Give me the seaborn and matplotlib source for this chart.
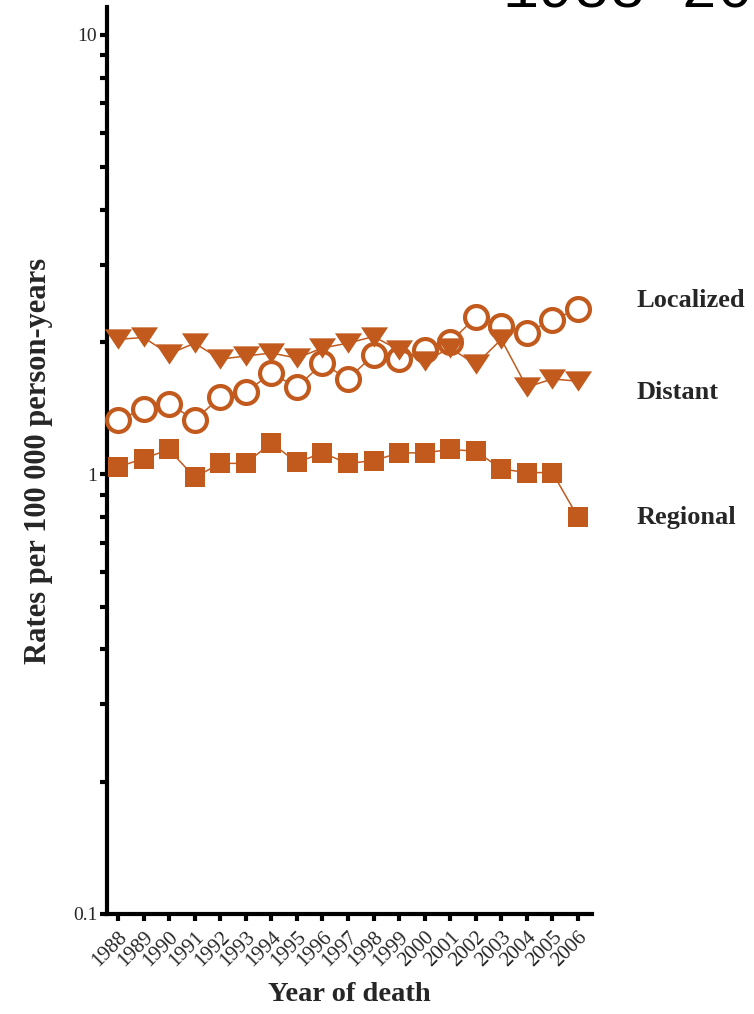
import matplotlib
matplotlib.use("Agg")
import matplotlib.pyplot as plt
import matplotlib.transforms as mtransforms
from matplotlib.ticker import LogLocator, NullFormatter, FixedLocator, FixedFormatter
import seaborn as sns
import pandas as pd

# ---- data ----
years = list(range(1988, 2007))
year_labels = [str(y) for y in years]
localized = [1.33, 1.41, 1.45, 1.33, 1.50, 1.54, 1.70, 1.58, 1.79, 1.65,
             1.87, 1.83, 1.92, 2.00, 2.28, 2.18, 2.10, 2.25, 2.38]
distant = [2.03, 2.05, 1.88, 1.99, 1.83, 1.86, 1.89, 1.84, 1.94, 1.99,
           2.06, 1.92, 1.81, 1.94, 1.78, 2.03, 1.58, 1.65, 1.63]
regional = [1.04, 1.087, 1.14, 0.985, 1.06, 1.06, 1.18, 1.065, 1.12, 1.06,
            1.075, 1.12, 1.12, 1.14, 1.13, 1.03, 1.01, 1.01, 0.80]
series_names = ["Localized", "Distant", "Regional"]
label_y = [2.49, 1.54, 0.80]
y_ticks = [0.1, 1, 10]
y_tick_labels = ["0.1", "1", "10"]

COLOR = "#C25A1E"

sns.set_theme(style="white")
plt.rcParams["font.family"] = ["Liberation Serif", "DejaVu Serif"]

W, H = 754, 1014
fig = plt.figure(figsize=(W / 100, H / 100), dpi=100)
ax = fig.add_axes([107 / W, (H - 914) / H, (592 - 107) / W, (914 - 7) / H])

df = pd.DataFrame({"year": years, "Localized": localized,
                   "Distant": distant, "Regional": regional})

tri = [(-1, 0.75), (1, 0.75), (0, -0.75)]
styles = {
    "Localized": dict(marker="o", markersize=16.5, markerfacecolor="white",
                      markeredgecolor=COLOR, markeredgewidth=3),
    "Distant": dict(marker=tri, markersize=19.5, markerfacecolor=COLOR,
                    markeredgecolor=COLOR, markeredgewidth=0),
    "Regional": dict(marker="s", markersize=15, markerfacecolor=COLOR,
                     markeredgecolor=COLOR, markeredgewidth=0),
}
zorders = {"Regional": 3, "Localized": 4, "Distant": 5}
for name in series_names:
    sns.lineplot(data=df, x="year", y=name, ax=ax, color=COLOR, linewidth=1.1,
                 legend=False, zorder=zorders[name], clip_on=False, **styles[name])

ax.set_yscale("log")
ax.set_ylim(0.1, 11.58)
ax.set_xlim(1987.57, 2006.55)

# spines
for s in ["top", "right"]:
    ax.spines[s].set_visible(False)
for s in ["left", "bottom"]:
    ax.spines[s].set_linewidth(3)
    ax.spines[s].set_color("black")

ax.yaxis.set_major_locator(FixedLocator(y_ticks))
ax.yaxis.set_major_formatter(FixedFormatter(y_tick_labels))
ax.yaxis.set_minor_locator(LogLocator(base=10, subs=range(2, 10)))
ax.yaxis.set_minor_formatter(NullFormatter())
ax.tick_params(axis="y", which="both", direction="out", length=5, width=3,
               color="black", left=True, labelsize=14, pad=2)
ax.set_xticks(years)
ax.set_xticklabels(year_labels, rotation=45, ha="right", rotation_mode="anchor")
ax.tick_params(axis="x", which="major", direction="out", length=5, width=3,
               color="black", bottom=True, labelsize=15, pad=5)
ax.tick_params(axis="x", which="minor", bottom=False)

ax.set_ylabel("Rates per 100 000 person-years", fontsize=22, fontweight="bold",
              labelpad=14)
ax.set_xlabel("Year of death", fontsize=20.5, fontweight="bold", labelpad=8)
ax.grid(False)

trans = mtransforms.blended_transform_factory(ax.transAxes, ax.transData)
for name, yv in zip(series_names, label_y):
    ax.text(1.091, yv, name, transform=trans, fontsize=19, fontweight="bold",
            va="center", ha="left", clip_on=False)

# cut-off title at top right (as in the reference)
fig.text(503 / W, 1 - 8 / H, "1988-2006", fontsize=43,
         family=["Liberation Mono", "DejaVu Sans Mono"], va="baseline",
         ha="left", color="black")

fig.savefig("out.png", dpi=100)
